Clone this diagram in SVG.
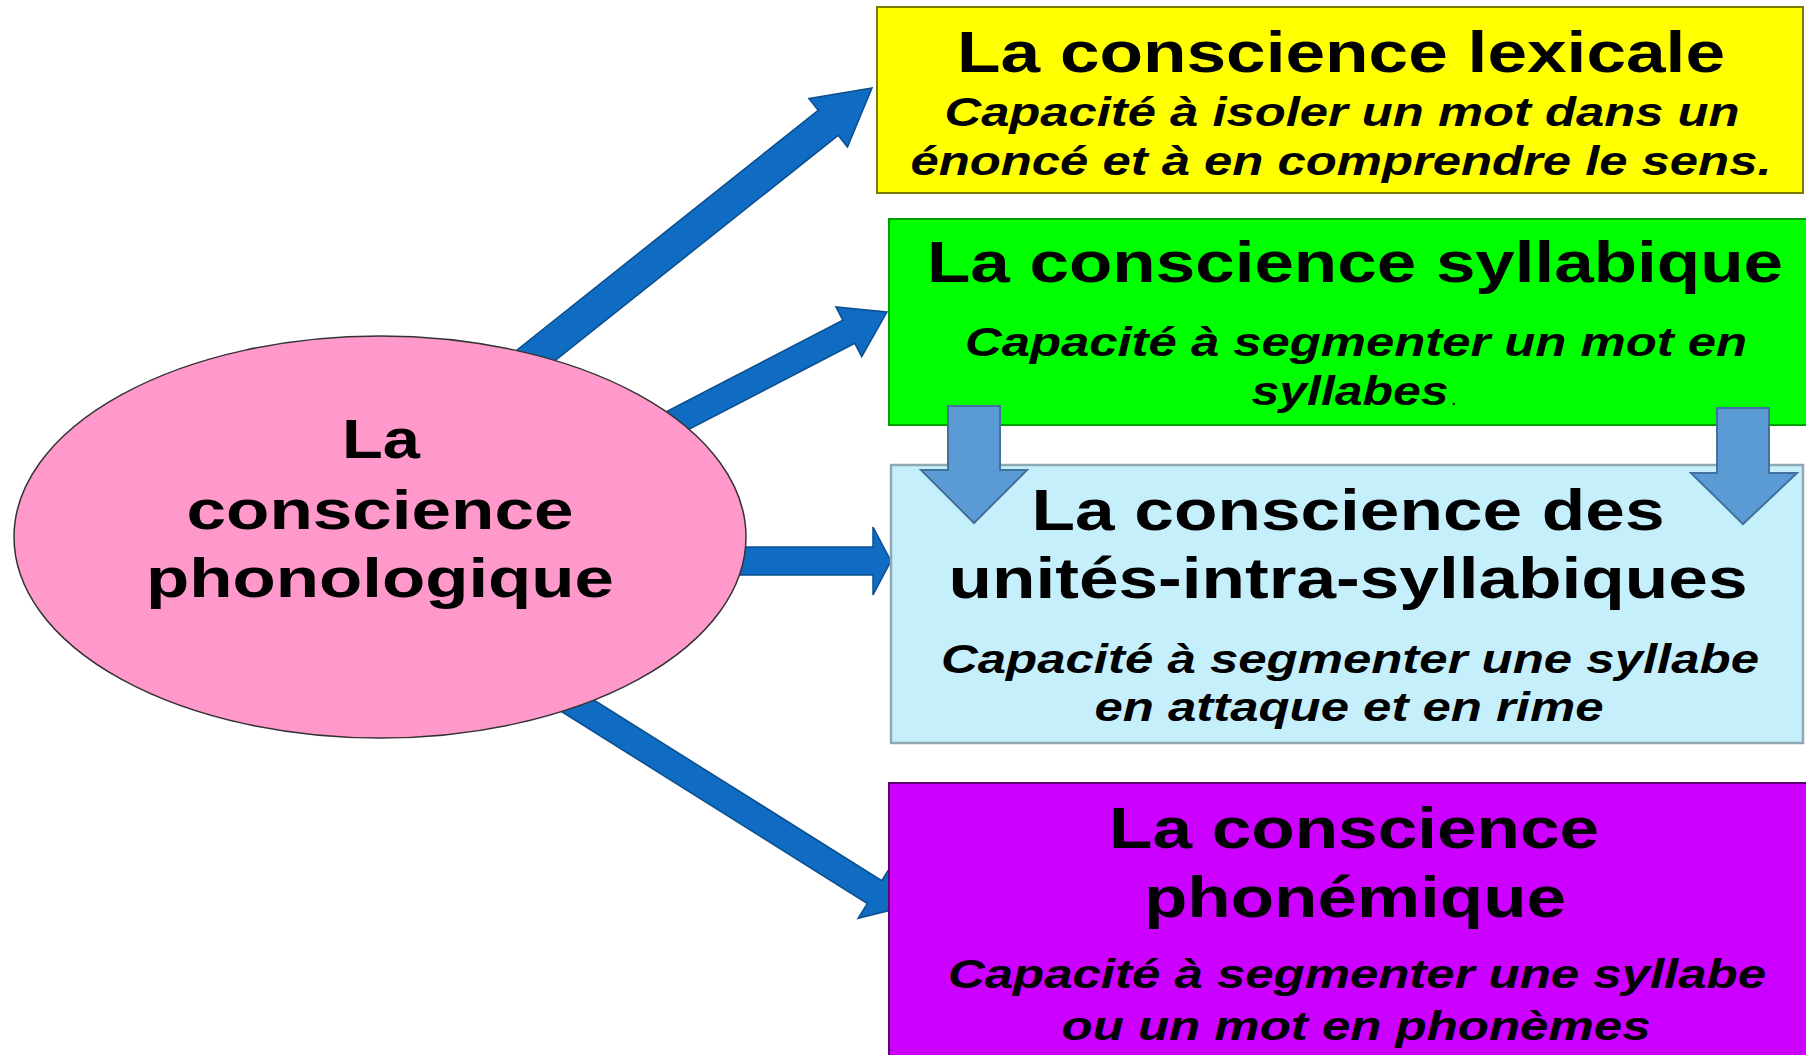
<svg xmlns="http://www.w3.org/2000/svg" width="1806" height="1055" viewBox="0 0 1806 1055">
<style>
.t{font-family:"Liberation Sans",Arial,sans-serif;font-weight:bold;font-size:57px;fill:#000;text-anchor:middle}
.s{font-family:"Liberation Sans",Arial,sans-serif;font-weight:bold;font-style:italic;font-size:41px;fill:#000;text-anchor:middle}
.e{font-family:"Liberation Sans",Arial,sans-serif;font-weight:bold;font-size:56px;fill:#000;text-anchor:middle}
.big{fill:#0F6CC2;stroke:#0B4E8E;stroke-width:1.5}
.small{fill:#5B9BD5;stroke:#41719C;stroke-width:2}
</style>
<rect width="1806" height="1055" fill="#fff"/>
<g id="connectors">
<g transform="translate(872,88) rotate(-38.5)"><path class="big" d="M0,0 L-56,-31 L-56,-16 L-480,-16 L-480,16 L-56,16 L-56,31 Z"/></g>
<g transform="translate(887,312) rotate(-27.4)"><path class="big" d="M0,0 L-43,-28 L-43,-13 L-340,-13 L-340,13 L-43,13 L-43,28 Z"/></g>
<path class="big" d="M891,561 L873,527 L873,547 L700,547 L700,575 L873,575 L873,595 Z"/>
<g transform="translate(900,908) rotate(32.1)"><path class="big" d="M0,0 L-30,-31 L-30,-13.5 L-420,-13.5 L-420,13.5 L-30,13.5 L-30,31 Z"/></g>
</g>
<g id="node-phonologique">
<ellipse cx="380" cy="537" rx="366" ry="201" fill="#FF99CC" stroke="#333" stroke-width="1.5"/>
<text class="e" x="381" y="458" textLength="78" lengthAdjust="spacingAndGlyphs">La</text>
<text class="e" x="380" y="529" textLength="387" lengthAdjust="spacingAndGlyphs">conscience</text>
<text class="e" x="380" y="597" textLength="468" lengthAdjust="spacingAndGlyphs">phonologique</text>
</g>
<g id="node-lexicale">
<rect x="877" y="7" width="926" height="186" fill="#FFFF00" stroke="#7A7A00" stroke-width="2"/>
<text class="t" x="1341" y="72" textLength="768" lengthAdjust="spacingAndGlyphs">La conscience lexicale</text>
<text class="s" x="1342" y="126" textLength="795" lengthAdjust="spacingAndGlyphs">Capacité à isoler un mot dans un</text>
<text class="s" x="1341" y="175" textLength="861" lengthAdjust="spacingAndGlyphs">énoncé et à en comprendre le sens.</text>
</g>
<g id="node-syllabique">
<rect x="889" y="219" width="925" height="206" fill="#00FF00" stroke="#00A000" stroke-width="2"/>
<text class="t" x="1355" y="282" textLength="856" lengthAdjust="spacingAndGlyphs">La conscience syllabique</text>
<text class="s" x="1356" y="356" textLength="782" lengthAdjust="spacingAndGlyphs">Capacité à segmenter un mot en</text>
<text class="s" x="1350" y="405" textLength="197" lengthAdjust="spacingAndGlyphs">syllabes</text>
<text x="1451" y="405" font-family="Liberation Sans,Arial,sans-serif" font-size="20" fill="#000">.</text>
</g>
<g id="node-intra">
<rect x="891" y="465" width="912" height="278" fill="#C6EFFC" stroke="#8FA9B3" stroke-width="2.5"/>
<text class="t" x="1348" y="530" textLength="633" lengthAdjust="spacingAndGlyphs">La conscience des</text>
<text class="t" x="1348" y="598" textLength="799" lengthAdjust="spacingAndGlyphs">unités-intra-syllabiques</text>
<text class="s" x="1350" y="673" textLength="818" lengthAdjust="spacingAndGlyphs">Capacité à segmenter une syllabe</text>
<text class="s" x="1349" y="721" textLength="509" lengthAdjust="spacingAndGlyphs">en attaque et en rime</text>
</g>
<g id="node-phonemique">
<rect x="889" y="783" width="925" height="282" fill="#CC00FF" stroke="#5A0070" stroke-width="2"/>
<text class="t" x="1354" y="848" textLength="490" lengthAdjust="spacingAndGlyphs">La conscience</text>
<text class="t" x="1355" y="917" textLength="422" lengthAdjust="spacingAndGlyphs">phonémique</text>
<text class="s" x="1357" y="988" textLength="818" lengthAdjust="spacingAndGlyphs">Capacité à segmenter une syllabe</text>
<text class="s" x="1356" y="1040" textLength="589" lengthAdjust="spacingAndGlyphs">ou un mot en phonèmes</text>
</g>
<g id="connectors-down">
<path class="small" d="M948,406 L1000,406 L1000,470 L1027,470 L974,523 L921,470 L948,470 Z"/>
<path class="small" d="M1717,408 L1769,408 L1769,473 L1797,473 L1743,524 L1691,473 L1717,473 Z"/>
</g>
</svg>
